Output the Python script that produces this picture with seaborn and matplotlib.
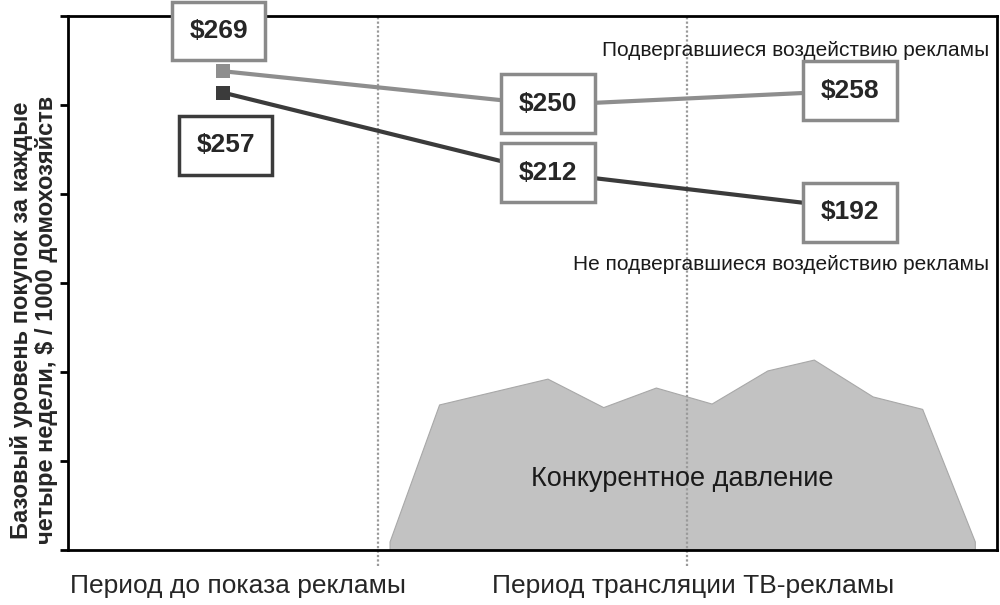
import pandas as pd
import seaborn as sns
import matplotlib
import matplotlib.pyplot as plt

matplotlib.use("Agg")

# week positions of the three measurement points
period_x = [5.0, 15.5, 25.25]
exposed = [269, 250, 258]
not_exposed = [257, 212, 192]
series_names = ["Подвергавшиеся воздействию рекламы", "Не подвергавшиеся воздействию рекламы"]

# competitive pressure silhouette
pressure_x = [10.4, 10.4, 12.0, 15.5, 17.3, 19.0, 20.8, 22.6, 24.1, 26.0, 27.6, 29.3, 29.3]
pressure_y = [0, 4.5, 81.5, 96, 80, 91, 82, 100.6, 106.7, 86, 79, 4.5, 0]

period_bounds = [10, 20]
period_labels = ["Период до показа рекламы", "Период трансляции ТВ-рекламы"]
period_label_x = [5.5, 20.2]


def main():
    sns.set_style("white")
    plt.rcParams["font.family"] = ["Liberation Sans", "DejaVu Sans"]

    df = pd.DataFrame({
        "x": period_x * 2,
        "y": exposed + not_exposed,
        "group": [series_names[0]] * 3 + [series_names[1]] * 3,
    })
    colors = {series_names[0]: "#8e8e8e", series_names[1]: "#3b3b3b"}

    fig = plt.figure(figsize=(10, 6.05), dpi=100)
    ax = fig.add_axes([0.068, 0.0909, 0.929, 0.8826])

    ax.fill(pressure_x, pressure_y, color="#c2c2c2", ec="#a8a8a8", lw=0.8, zorder=1)
    ax.text(19.85, 40, "Конкурентное давление",
            ha="center", va="center", fontsize=19.5, color="#1a1a1a", zorder=2)

    for b in period_bounds:
        ax.axvline(b, ymin=-0.03, ymax=1, color="#9a9a9a", ls=(0, (1, 1)), lw=1.6,
                   clip_on=False, zorder=1.5)

    sns.lineplot(data=df, x="x", y="y", hue="group", palette=colors, lw=3,
                 marker="s", markersize=10.5, markeredgewidth=0, legend=False, ax=ax, zorder=3)

    offsets_top = [(-3, 29), (0, 1), (0, 0)]
    for xv, yv, off in zip(period_x, exposed, offsets_top):
        ax.annotate(f"${yv}", (xv, yv), xytext=off, textcoords="offset points",
                    ha="center", va="center", fontsize=19, fontweight="bold", zorder=5,
                    bbox=dict(boxstyle="square,pad=0.66", fc="white", ec="#8a8a8a", lw=2.5))
    offsets_bot = [(2, -38), (0, 0), (0, -3)]
    edge_bot = ["#3b3b3b", "#8a8a8a", "#8a8a8a"]
    for xv, yv, off, ec in zip(period_x, not_exposed, offsets_bot, edge_bot):
        ax.annotate(f"${yv}", (xv, yv), xytext=off, textcoords="offset points",
                    ha="center", va="center", fontsize=19, fontweight="bold", zorder=5,
                    bbox=dict(boxstyle="square,pad=0.66", fc="white", ec=ec, lw=2.5))

    ax.text(0.992, 0.935, series_names[0], transform=ax.transAxes, ha="right", va="center",
            fontsize=15, color="#1a1a1a")
    ax.text(0.992, 0.535, series_names[1], transform=ax.transAxes, ha="right", va="center",
            fontsize=15, color="#1a1a1a")

    ax.set_xlim(0, 30)
    ax.set_ylim(0, 300)
    ax.set_yticks(range(0, 301, 50))
    ax.set_yticklabels([])
    ax.set_xticks(period_label_x)
    ax.set_xticklabels(period_labels, fontsize=19)
    ax.tick_params(axis="x", length=0, pad=17)
    ax.tick_params(axis="y", direction="out", length=6, width=2, color="black", left=True)
    for s in ax.spines.values():
        s.set_color("black")
        s.set_linewidth(2)

    ax.set_xlabel("")
    ax.set_ylabel("Базовый уровень покупок за каждые\nчетыре недели, $ / 1000 домохозяйств",
                  fontsize=17, fontweight="bold", linespacing=1.1)
    ax.yaxis.set_label_coords(-0.011, 0.43)

    fig.savefig("out.png", dpi=100)


if __name__ == "__main__":
    main()
